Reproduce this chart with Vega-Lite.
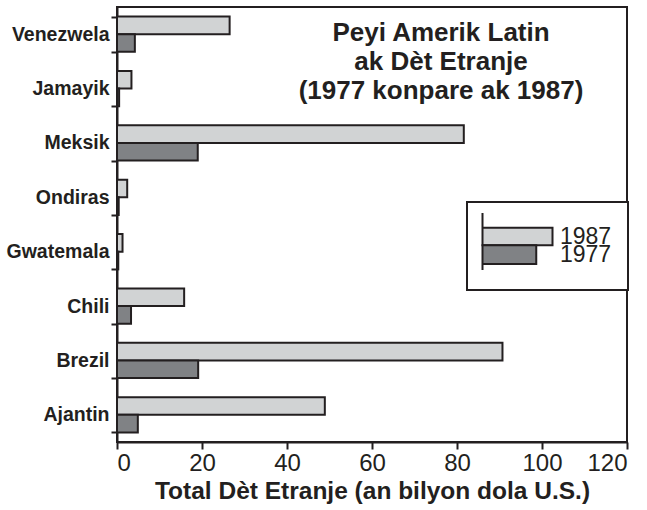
{
  "$schema": "https://vega.github.io/schema/vega-lite/v6.json",
  "width": 510,
  "height": 435,
  "autosize": {"type": "none"},
  "padding": {"left": 117, "top": 7, "right": 20, "bottom": 68},
  "background": "white",
  "config": {
    "font": "Liberation Sans",
    "view": {"stroke": "#231f20", "strokeWidth": 2},
    "axis": {"domainColor": "#231f20", "domainWidth": 2, "tickColor": "#231f20", "tickWidth": 2, "labelColor": "#231f20", "titleColor": "#231f20", "grid": false}
  },
  "title": {
    "text": ["Peyi Amerik Latin", "ak Dèt Etranje", "(1977 konpare ak 1987)"],
    "fontSize": 26,
    "fontWeight": "bold",
    "color": "#231f20",
    "lineHeight": 29,
    "anchor": "middle",
    "frame": "group",
    "offset": -107,
    "dx": 69
  },
  "data": {
    "values": [
      {"country": "Venezwela", "year": "1987", "debt": 26.5},
      {"country": "Venezwela", "year": "1977", "debt": 4.2},
      {"country": "Jamayik", "year": "1987", "debt": 3.4},
      {"country": "Jamayik", "year": "1977", "debt": 0.5},
      {"country": "Meksik", "year": "1987", "debt": 81.6},
      {"country": "Meksik", "year": "1977", "debt": 19.0},
      {"country": "Ondiras", "year": "1987", "debt": 2.4},
      {"country": "Ondiras", "year": "1977", "debt": 0.4},
      {"country": "Gwatemala", "year": "1987", "debt": 1.3},
      {"country": "Gwatemala", "year": "1977", "debt": 0.3},
      {"country": "Chili", "year": "1987", "debt": 15.8},
      {"country": "Chili", "year": "1977", "debt": 3.3},
      {"country": "Brezil", "year": "1987", "debt": 90.7},
      {"country": "Brezil", "year": "1977", "debt": 19.1},
      {"country": "Ajantin", "year": "1987", "debt": 48.9},
      {"country": "Ajantin", "year": "1977", "debt": 4.9}
    ]
  },
  "mark": {"type": "bar", "stroke": "#231f20", "strokeWidth": 2},
  "encoding": {
    "y": {
      "field": "country",
      "type": "nominal",
      "sort": ["Venezwela", "Jamayik", "Meksik", "Ondiras", "Gwatemala", "Chili", "Brezil", "Ajantin"],
      "scale": {"paddingInner": 0.35, "paddingOuter": 0.175},
      "axis": {"title": null, "tickBand": "extent", "tickSize": 6, "labelPadding": 2, "labelFontSize": 19.5, "labelFontWeight": "bold", "domain": true}
    },
    "yOffset": {
      "field": "year",
      "type": "nominal",
      "sort": ["1987", "1977"],
      "scale": {"paddingInner": 0, "paddingOuter": 0}
    },
    "x": {
      "field": "debt",
      "type": "quantitative",
      "scale": {"domain": [0, 120], "nice": false},
      "axis": {"title": "Total Dèt Etranje (an bilyon dola U.S.)", "values": [0, 20, 40, 60, 80, 100, 120], "tickSize": 7, "labelPadding": 2, "labelFontSize": 24, "titleFontSize": 24.5, "titleFontWeight": "bold", "titlePadding": 4}
    },
    "color": {
      "field": "year",
      "type": "nominal",
      "scale": {"domain": ["1987", "1977"], "range": ["#d1d3d4", "#808285"]},
      "legend": {
        "orient": "none",
        "legendX": 350,
        "legendY": 195,
        "title": null,
        "strokeColor": "#231f20",
        "fillColor": "white",
        "padding": 16,
        "symbolSize": 100,
        "symbolStrokeColor": "#231f20",
        "symbolStrokeWidth": 2,
        "symbolOpacity": 1,
        "labelFontSize": 23,
        "labelColor": "#231f20",
        "labelOffset": 54,
        "rowPadding": -9.5,
        "encode": {
          "legend": {"update": {"strokeWidth": {"value": 2}}},
          "symbols": {
            "update": {
              "shape": {"signal": "datum.value === '1987' ? 'M-2.4,-0.35H11.6V3.15H-2.4Z M-2.4,-3.3V3.15' : 'M-2.4,-3.24H8.35V0.5H-2.4Z M-2.4,-3.24V1.7'"}
            }
          },
          "labels": {
            "update": {
              "dy": {"signal": "datum.value === '1987' ? 7.2 : -7"}
            }
          }
        }
      }
    }
  }
}
